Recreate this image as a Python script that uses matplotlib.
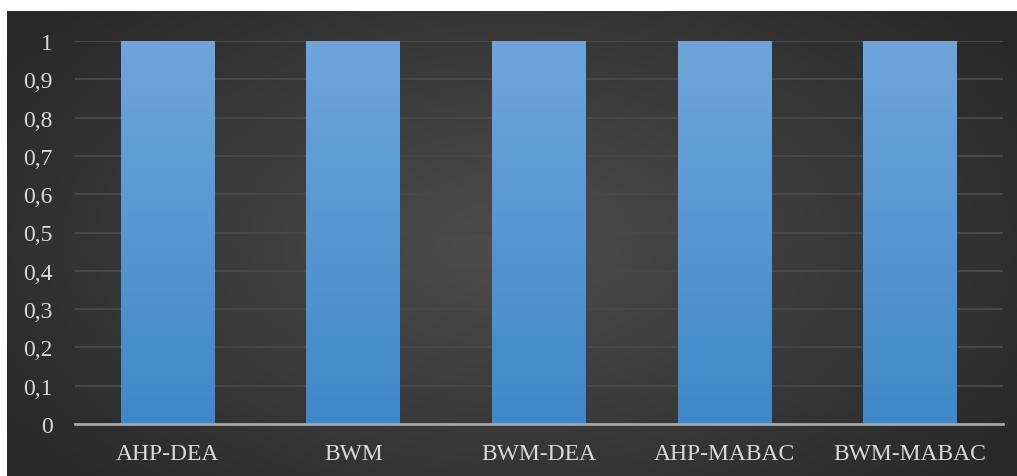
import matplotlib
matplotlib.use("Agg")
import matplotlib.pyplot as plt
import numpy as np

# Data
methods = ['AHP-DEA', 'BWM', 'BWM-DEA', 'AHP-MABAC', 'BWM-MABAC']
scores = [1, 1, 1, 1, 1]
yticks = [0, 0.1, 0.2, 0.3, 0.4, 0.5, 0.6, 0.7, 0.8, 0.9, 1]
ytick_labels = ['0', '0,1', '0,2', '0,3', '0,4', '0,5', '0,6', '0,7', '0,8', '0,9', '1']

W, H = 1017, 477
fig = plt.figure(figsize=(W / 100, H / 100), dpi=100)
fig.patch.set_facecolor('white')

# dark radial background panel
bg = fig.add_axes([7 / W, 0, 1 - 7 / W, 1 - 12 / H])
bg.set_axis_off()
yy, xx = np.mgrid[-1:1:300j, -1:1:600j]
r = np.sqrt(xx ** 2 + (yy * 0.8) ** 2)
shade = 0.30 - 0.14 * np.clip(r / 1.2, 0, 1)
bg.imshow(np.dstack([shade] * 3), aspect='auto', extent=[0, 1, 0, 1],
          interpolation='bilinear')
bg.set_xlim(0, 1)
bg.set_ylim(0, 1)

# main axes
ax = fig.add_axes([75 / W, 1 - 425 / H, 928 / W, (425 - 42) / H])
ax.patch.set_alpha(0)
x = np.arange(len(methods))
bars = ax.bar(x, scores, width=0.506, color='#5a9ad6', zorder=3)

# vertical gradient on each bar
grad = np.linspace(0, 1, 256).reshape(-1, 1)
cmap = matplotlib.colors.LinearSegmentedColormap.from_list(
    'barblue', ['#3f88c8', '#6fa5db'])
for b in bars:
    bx, by = b.get_x(), b.get_y()
    bw, bh = b.get_width(), b.get_height()
    im = ax.imshow(grad, cmap=cmap, aspect='auto', origin='lower',
                   extent=[bx, bx + bw, by, by + bh], zorder=4)
    im.set_clip_path(b)

ax.set_xlim(-0.5, len(methods) - 0.5)
ax.set_ylim(0, 1)
ax.set_yticks(yticks)
ax.set_yticklabels(ytick_labels)
ax.set_xticks(x)
ax.set_xticklabels(methods)
ax.yaxis.grid(True, color='#474747', linewidth=1.5, zorder=0)
ax.set_axisbelow(True)
for s in ['top', 'right', 'left']:
    ax.spines[s].set_visible(False)
ax.spines['bottom'].set_color('#a6a6a6')
ax.spines['bottom'].set_linewidth(2)
ax.spines['bottom'].set_zorder(5)
ax.tick_params(length=0, colors='#d9d9d9', labelsize=17)
ax.tick_params(axis='x', pad=14)
ax.tick_params(axis='y', pad=16)
for lbl in ax.get_xticklabels() + ax.get_yticklabels():
    lbl.set_fontfamily('Liberation Serif')

fig.savefig('out.png', dpi=100, facecolor=fig.get_facecolor())
